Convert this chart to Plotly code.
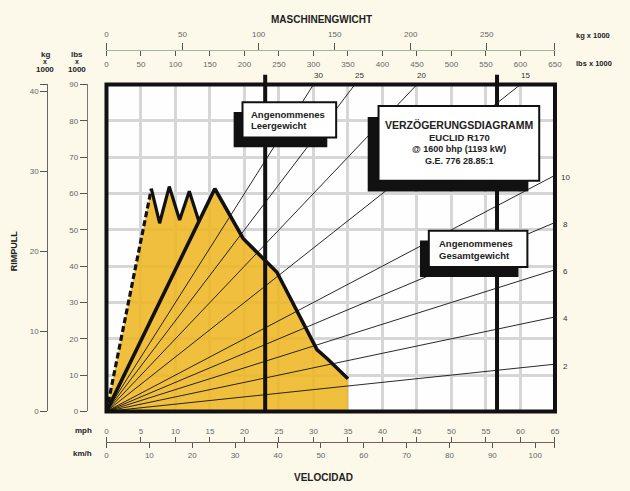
import plotly.graph_objects as go

# ---------------- data ----------------
mph_ticks = [0, 5, 10, 15, 20, 25, 30, 35, 40, 45, 50, 55, 60, 65]
kmh_ticks = [0, 10, 20, 30, 40, 50, 60, 70, 80, 90, 100]
lbs_top_ticks = [0, 50, 100, 150, 200, 250, 300, 350, 400, 450, 500, 550, 600, 650]
kg_top_ticks = [0, 50, 100, 150, 200, 250]
lbs_left_ticks = [0, 10, 20, 30, 40, 50, 60, 70, 80, 90]
kg_left_ticks = [0, 10, 20, 30, 40]

ray_grades = [30, 25, 20, 15, 10, 8, 6, 4, 2]
top_label_grades = [30, 25, 20, 15]
right_label_grades = [10, 8, 6, 4, 2]

empty_weight_klbs = 230
gross_weight_klbs = 566

# retarder performance curve (mph, rimpull x1000 lbs)
dash_mph = [0, 6.5]
dash_klbs = [0, 61.3]
zig_mph = [6.5, 7.7, 9.1, 10.6, 12.0, 13.4]
zig_klbs = [61.3, 51.8, 61.9, 52.7, 60.6, 52.3]
main_mph = [0, 15.7, 19.8, 22.7, 24.7, 30.5, 32.0, 35.0]
main_klbs = [0, 61.3, 47.6, 41.9, 38.3, 17.0, 14.5, 9.0]

MPH_MAX = 65
W_MAX = 650          # 1000 lbs
RIM_MAX = 90         # 1000 lbs
LB_PER_KG = 2.20462
KMH_PER_MPH = 1.609344
W_TO_MPH = MPH_MAX / W_MAX

# ---------------- layout helpers ----------------
FW, FH = 630, 491
def px(x):
    return x / FW
def py(y):
    return 1 - y / FH

BG = '#fcf9ea'
YELLOW = 'rgba(238,182,35,0.88)'
GRID = '#d6d6d6'
TICKC = '#666666'
FONT = 'Liberation Sans, Arial, sans-serif'

fig = go.Figure()

# yellow area
poly_x = dash_mph + zig_mph[1:] + main_mph[1:] + [main_mph[-1], 0]
poly_y = dash_klbs + zig_klbs[1:] + main_klbs[1:] + [0, 0]
fig.add_trace(go.Scatter(x=poly_x, y=poly_y, fill='toself', fillcolor=YELLOW,
                         mode='lines', line=dict(width=0, color=YELLOW),
                         hoverinfo='skip', showlegend=False))

# grade rays
for g in ray_grades:
    fig.add_trace(go.Scatter(x=[0, W_MAX * W_TO_MPH], y=[0, W_MAX * g / 100],
                             mode='lines', line=dict(color='#111111', width=0.9),
                             hoverinfo='skip', showlegend=False))

# outlines
fig.add_trace(go.Scatter(x=dash_mph, y=dash_klbs, mode='lines',
                         line=dict(color='#111111', width=3.2, dash='6px,3px'),
                         hoverinfo='skip', showlegend=False))
fig.add_trace(go.Scatter(x=zig_mph, y=zig_klbs, mode='lines',
                         line=dict(color='#111111', width=3.2),
                         hoverinfo='skip', showlegend=False))
fig.add_trace(go.Scatter(x=main_mph, y=main_klbs, mode='lines',
                         line=dict(color='#111111', width=3.6),
                         hoverinfo='skip', showlegend=False))

# dummy traces to activate secondary axes
for xa, ya in [('x2', 'y'), ('x3', 'y'), ('x4', 'y'), ('x', 'y2')]:
    fig.add_trace(go.Scatter(x=[0], y=[0], xaxis=xa, yaxis=ya, mode='markers',
                             marker=dict(opacity=0), hoverinfo='skip', showlegend=False))

tickfont = dict(family=FONT, size=8, color=TICKC)
xdom = [px(106), px(561)]
ydom = [py(415), py(82)]

fig.update_layout(
    width=FW, height=FH,
    margin=dict(l=0, r=0, t=0, b=0),
    paper_bgcolor=BG, plot_bgcolor='#fefefe',
    hovermode=False, showlegend=False,
    font=dict(family=FONT),
    xaxis=dict(domain=xdom, range=[0, MPH_MAX], anchor='free', position=py(446.5),
               side='top', tickmode='array', tickvals=mph_ticks,
               ticks='outside', ticklen=5, tickwidth=1, tickcolor='#555',
               showline=True, linecolor='#7a6060', linewidth=1,
               showgrid=True, gridcolor=GRID, gridwidth=3, zeroline=False,
               tickfont=tickfont, fixedrange=True),
    xaxis2=dict(overlaying='x', range=[0, MPH_MAX * KMH_PER_MPH], anchor='free',
                position=py(446.5), side='bottom', tickmode='array',
                tickvals=kmh_ticks + [MPH_MAX * KMH_PER_MPH],
                ticktext=[str(v) for v in kmh_ticks] + [''],
                ticks='outside', ticklen=5, tickwidth=1, tickcolor='#555',
                showline=False, showgrid=False, zeroline=False, tickfont=tickfont),
    xaxis3=dict(overlaying='x', range=[0, W_MAX], anchor='free', position=py(46.5),
                side='bottom', tickmode='array', tickvals=lbs_top_ticks,
                ticks='outside', ticklen=5, tickwidth=1, tickcolor='#555',
                showline=True, linecolor='#9fb8a0', linewidth=1,
                showgrid=False, zeroline=False, tickfont=tickfont,
                ticklabelstandoff=2),
    xaxis4=dict(overlaying='x', range=[0, W_MAX / LB_PER_KG], anchor='free',
                position=py(46.5), side='top', tickmode='array',
                tickvals=kg_top_ticks + [W_MAX / LB_PER_KG],
                ticktext=[str(v) for v in kg_top_ticks] + [''],
                ticks='outside', ticklen=7, tickwidth=1, tickcolor='#555',
                showline=False, showgrid=False, zeroline=False, tickfont=tickfont,
                ticklabelstandoff=2),
    yaxis=dict(domain=ydom, range=[0, RIM_MAX], anchor='free', position=px(86),
               side='left', tickmode='array', tickvals=lbs_left_ticks,
               ticks='outside', ticklen=7, tickwidth=1, tickcolor='#555',
               showline=True, linecolor='#777', linewidth=1,
               showgrid=True, gridcolor=GRID, gridwidth=3, zeroline=False,
               tickfont=tickfont, fixedrange=True),
    yaxis2=dict(overlaying='y', range=[0, RIM_MAX / LB_PER_KG], anchor='free',
                position=px(46), side='left', tickmode='array',
                tickvals=kg_left_ticks + [RIM_MAX / LB_PER_KG],
                ticktext=[str(v) for v in kg_left_ticks] + [''],
                ticks='outside', ticklen=7, tickwidth=1, tickcolor='#555',
                showline=True, linecolor='#666', linewidth=1,
                showgrid=False, zeroline=False, tickfont=tickfont),
)

shapes = []
# weight lines
for w in [empty_weight_klbs, gross_weight_klbs]:
    shapes.append(dict(type='line', xref='x', yref='paper', x0=w * W_TO_MPH, x1=w * W_TO_MPH,
                       y0=py(415), y1=py(72), line=dict(color='#111111', width=4), layer='above'))

def box(x0, y0, x1, y1, dx=-9, dy=10):
    shapes.append(dict(type='rect', xref='paper', yref='paper',
                       x0=px(x0 + dx), x1=px(x1 + dx), y0=py(y1 + dy), y1=py(y0 + dy),
                       fillcolor='#111111', line=dict(width=0), layer='above'))
    shapes.append(dict(type='rect', xref='paper', yref='paper',
                       x0=px(x0), x1=px(x1), y0=py(y1), y1=py(y0),
                       fillcolor='#ffffff', line=dict(color='#111111', width=2), layer='above'))

box(244, 100, 339, 136, dx=-9, dy=10)
box(382, 104, 545, 180, dx=-11, dy=11)
box(433, 231, 533, 268, dx=-9, dy=10)

# frame
shapes.append(dict(type='rect', xref='x domain', yref='y domain', x0=0, x1=1, y0=0, y1=1,
                   line=dict(color='#111111', width=4), layer='above'))
fig.update_layout(shapes=shapes)

ann = []
def txt(x, y, s, size=9, bold=True, xanchor='center', color='#222222', angle=0):
    ann.append(dict(xref='paper', yref='paper', x=px(x), y=py(y), text=s, showarrow=False,
                    xanchor=xanchor, yanchor='middle', textangle=angle,
                    font=dict(family=FONT, size=size, color=color,
                              weight='bold' if bold else 'normal')))

txt(324, 16, 'MASCHINENGWICHT', size=10)
txt(326, 482, 'VELOCIDAD', size=10)
txt(13, 252, 'RIMPULL', size=9, angle=-90)
txt(580, 32, 'kg x 1000', size=7.5, xanchor='left')
txt(580, 61, 'lbs x 1000', size=7.5, xanchor='left')
txt(93, 434, 'mph', size=8, xanchor='right')
txt(93, 458, 'km/h', size=8, xanchor='right')
for xx, lab in [(44, 'kg'), (76, 'lbs')]:
    txt(xx, 51, lab, size=8)
    txt(xx, 59, 'x', size=7)
    txt(xx, 67, '1000', size=8)

# box texts
txt(251, 113, 'Angenommenes', size=9.5, xanchor='left')
txt(251, 124, 'Leergewicht', size=9.5, xanchor='left')
txt(441, 244, 'Angenommenes', size=9.5, xanchor='left')
txt(441, 256, 'Gesamtgewicht', size=9.5, xanchor='left')
txt(464, 123, 'VERZÖGERUNGSDIAGRAMM', size=10.5)
txt(464, 136, 'EUCLID R170', size=9.5)
txt(464, 148, '@ 1600 bhp (1193 kW)', size=9)
txt(464, 160, 'G.E. 776 28.85:1', size=9)

for g in top_label_grades:
    ann.append(dict(xref='x', yref='y', x=RIM_MAX * 100 / g * W_TO_MPH, y=RIM_MAX,
                    text=str(g), showarrow=False, xshift=5, yshift=9,
                    font=dict(family=FONT, size=8, color='#333')))
for g in right_label_grades:
    ann.append(dict(xref='x', yref='y', x=MPH_MAX, y=W_MAX * g / 100,
                    text=str(g), showarrow=False, xshift=11, yshift=-2,
                    font=dict(family=FONT, size=8, color='#333')))

fig.update_layout(annotations=ann)

fig.write_html('out.html', config={'displayModeBar': False},
               post_script="document.body.style.margin='0';document.body.style.overflow='hidden';")
